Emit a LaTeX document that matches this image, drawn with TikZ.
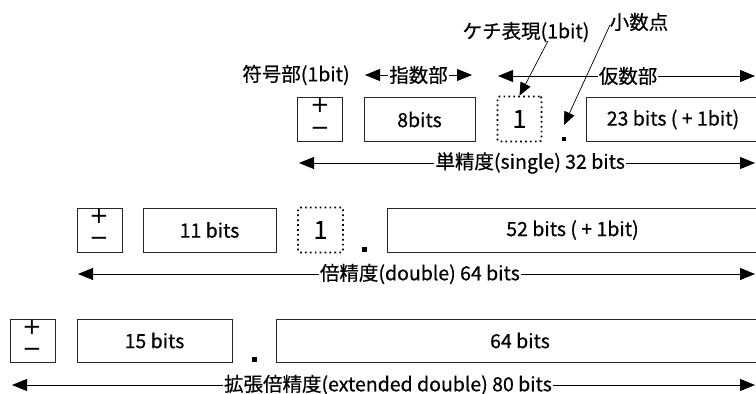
\documentclass[tikz,border=0pt]{standalone}
\usepackage{fontspec}
\setmainfont[FakeBold=0.5]{Noto Sans CJK JP}
\newfontfamily\signfont{DejaVu Sans}
\usetikzlibrary{arrows.meta}
\tikzset{
  lbl/.style={inner sep=1pt, font=\fontsize{19.5}{22}\selectfont},
  boxtxt/.style={draw=black!85, line width=0.9pt, minimum height=44pt, inner sep=0pt, font=\fontsize{19.5}{22}\selectfont},
  dotbox/.style={draw=black, line width=1.7pt, dash pattern=on 1.7pt off 3.2pt, rounded corners=2pt, minimum width=44pt, minimum height=45pt, inner sep=0pt, font=\fontsize{25}{27}\selectfont},
  pt/.style={fill=black, minimum size=4.5pt, inner sep=0pt},
  sgn/.style={font=\signfont\fontsize{23}{24}\selectfont, inner sep=0pt},
  dim/.style={line width=0.8pt, {Triangle[length=15pt,width=12pt]}-{Triangle[length=15pt,width=12pt]}},
  lead/.style={line width=0.7pt, -{Triangle[length=13pt,width=11pt]}},
  mid/.style={fill=white, inner sep=1pt, font=\fontsize{19.5}{22}\selectfont}
}
\begin{document}
\begin{tikzpicture}[x=1pt,y=-1pt]
\useasboundingbox (0,0) rectangle (756,394);
% ---- top labels
\node[lbl] (fugo) at (296,75) {符号部(1bit)};
\coordinate (eL) at (365,75);
\coordinate (eR) at (472,75);
\draw[dim] (eL) -- (eR) node[mid, midway] {指数部};
\coordinate (mL) at (498,76);
\coordinate (mR) at (755,76);
\draw[dim] (mL) -- (mR) node[mid, pos=0.506] {仮数部};
\node[lbl] (kechi) at (526,32) {ケチ表現(1bit)};
\node[lbl] (shou) at (639,22) {小数点};
% ---- single
\node[boxtxt, minimum width=45pt] (s1) at (320,119.5) {};
\node[sgn] (s1p) at (320,105) {+};
\node[sgn] (s1m) at (320,131) {−};
\node[boxtxt, minimum width=111pt] (e1) at (419.5,119.5) {8bits};
\node[dotbox] (k1) at (519.5,119) {1};
\node[pt] (d1) at (564,139) {};
\node[boxtxt, minimum width=174pt] (m1) at (673,119.5) {23 bits ( + 1bit)};
\coordinate (kt) at (548,41);
\draw[lead] (kt) -- (k1.north);
\coordinate (st) at (610,25);
\coordinate (sp) at (564,125);
\draw[lead] (st) -- (sp);
\coordinate (a1L) at (299,163);
\coordinate (a1R) at (755,163);
\draw[dim] (a1L) -- (a1R) node[mid, pos=0.507] {単精度(single) 32 bits};
% ---- double
\node[boxtxt, minimum width=45pt] (s2) at (99.5,230) {};
\node[sgn] (s2p) at (99,216) {+};
\node[sgn] (s2m) at (99,241.5) {−};
\node[boxtxt, minimum width=133pt] (e2) at (209.5,230) {11 bits};
\node[dotbox, minimum width=45pt] (k2) at (320.5,230) {1};
\node[pt] (d2) at (364.5,249.5) {};
\node[boxtxt, minimum width=371pt] (m2) at (572.5,230) {52 bits ( + 1bit)};
\coordinate (a2L) at (78,274);
\coordinate (a2R) at (755,274);
\draw[dim] (a2L) -- (a2R) node[mid, pos=0.505] {倍精度(double) 64 bits};
% ---- extended
\node[boxtxt, minimum width=45pt, minimum height=43pt] (s3) at (32.5,340.5) {};
\node[sgn] (s3p) at (32,327) {+};
\node[sgn] (s3m) at (32,352) {−};
\node[boxtxt, minimum width=155pt, minimum height=43pt] (e3) at (154.5,340.5) {15 bits};
\node[pt] (d3) at (254.5,359.5) {};
\node[boxtxt, minimum width=488pt, minimum height=43pt] (m3) at (520,340.5) {64 bits};
\coordinate (a3L) at (12,385);
\coordinate (a3R) at (755,385);
\draw[dim] (a3L) -- (a3R) node[mid, pos=0.506] {拡張倍精度(extended double) 80 bits};
\end{tikzpicture}
\end{document}
